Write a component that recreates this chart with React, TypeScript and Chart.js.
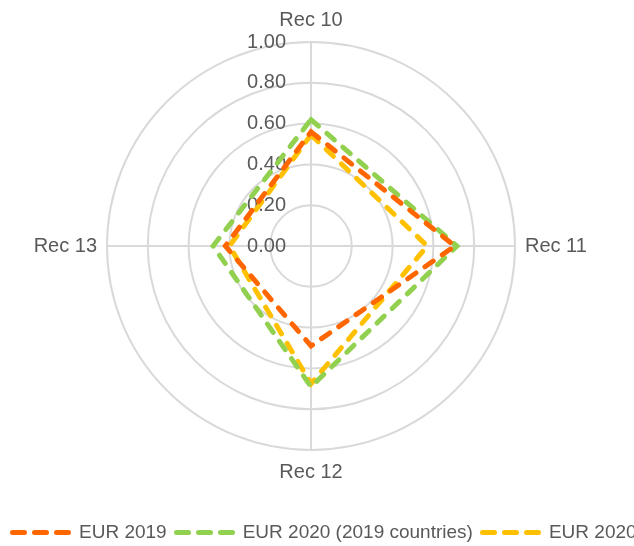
import React, { useEffect, useRef } from 'react';
import { Chart, registerables } from 'chart.js';

Chart.register(...registerables);

const FONT = "'Liberation Sans', Arial, sans-serif";

const CATEGORIES = ['Rec 10', 'Rec 11', 'Rec 12', 'Rec 13'];
const SERIES_NAMES = ['EUR 2019', 'EUR 2020 (2019 countries)', 'EUR 2020'];
const EUR_2019 = [0.56, 0.705, 0.49, 0.42];
const EUR_2020_2019_COUNTRIES = [0.62, 0.715, 0.69, 0.48];
const EUR_2020 = [0.545, 0.57, 0.675, 0.4];
const TICK_LABELS = ['0.00', '0.20', '0.40', '0.60', '0.80', '1.00'];
const COLORS = ['#FF6600', '#92D050', '#FFC000'];

const SERIES = [EUR_2019, EUR_2020_2019_COUNTRIES, EUR_2020];

const tickLabelPlugin = {
  id: 'tickLabelsLeft',
  beforeDatasetsDraw(chart: any) {
    const scale = chart.scales.r;
    const ctx = chart.ctx;
    ctx.save();
    ctx.font = `20px ${FONT}`;
    ctx.fillStyle = '#595959';
    ctx.textAlign = 'right';
    ctx.textBaseline = 'middle';
    scale.ticks.forEach((t: any) => {
      const d = scale.getDistanceFromCenterForValue(t.value);
      ctx.fillText(t.label, scale.xCenter - 25, scale.yCenter - d);
    });
    ctx.restore();
  },
};

export default function App() {
  const canvasRef = useRef<HTMLCanvasElement | null>(null);

  useEffect(() => {
    document.body.style.margin = '0';
    const canvas = canvasRef.current;
    if (!canvas) return;
    const chart = new Chart(canvas, {
      type: 'radar',
      data: {
        labels: CATEGORIES,
        datasets: SERIES.map((values, i) => ({
          label: SERIES_NAMES[i],
          data: values,
          borderColor: COLORS[i],
          backgroundColor: COLORS[i],
          borderWidth: 5,
          borderDash: [10, 11],
          borderCapStyle: 'round',
          fill: false,
          pointRadius: 0,
          pointHoverRadius: 0,
          tension: 0,
        })),
      },
      options: {
        animation: false,
        responsive: true,
        maintainAspectRatio: false,
        layout: { padding: { top: 8, bottom: 61, left: 0, right: 11 } },
        plugins: {
          legend: { display: false },
          tooltip: { enabled: false },
        },
        scales: {
          r: {
            min: 0,
            max: 1,
            startAngle: 0,
            ticks: {
              stepSize: 0.2,
              display: false,
              callback: (_v: any, i: number) => TICK_LABELS[i],
            },
            grid: { circular: true, color: '#d9d9d9', lineWidth: 2 },
            angleLines: { color: '#d9d9d9', lineWidth: 2 },
            pointLabels: {
              font: { size: 20, family: FONT },
              color: '#595959',
              padding: 10,
            },
          },
        },
      } as any,
      plugins: [tickLabelPlugin],
    });
    return () => chart.destroy();
  }, []);

  return (
    <div style={{ position: 'relative', width: 634, height: 546, overflow: 'hidden', background: '#fff' }}>
      <div style={{ position: 'absolute', left: 0, top: 0, width: 634, height: 546 }}>
        <canvas ref={canvasRef} />
      </div>
      <div
        style={{
          position: 'absolute',
          left: 10,
          top: 519.7,
          height: 24,
          display: 'flex',
          alignItems: 'center',
          whiteSpace: 'nowrap',
          font: `19px ${FONT}`,
          lineHeight: '24px',
          color: '#595959',
        }}
      >
        {SERIES_NAMES.map((name, i) => (
          <div key={name} style={{ display: 'flex', alignItems: 'center', marginRight: 7 }}>
            <span style={{ display: 'flex', gap: 5, marginRight: 8, marginTop: 2 }}>
              {[0, 1, 2].map((k) => (
                <span
                  key={k}
                  style={{ display: 'block', width: 17, height: 5, borderRadius: 2.5, background: COLORS[i] }}
                />
              ))}
            </span>
            <span>{name}</span>
          </div>
        ))}
      </div>
    </div>
  );
}
